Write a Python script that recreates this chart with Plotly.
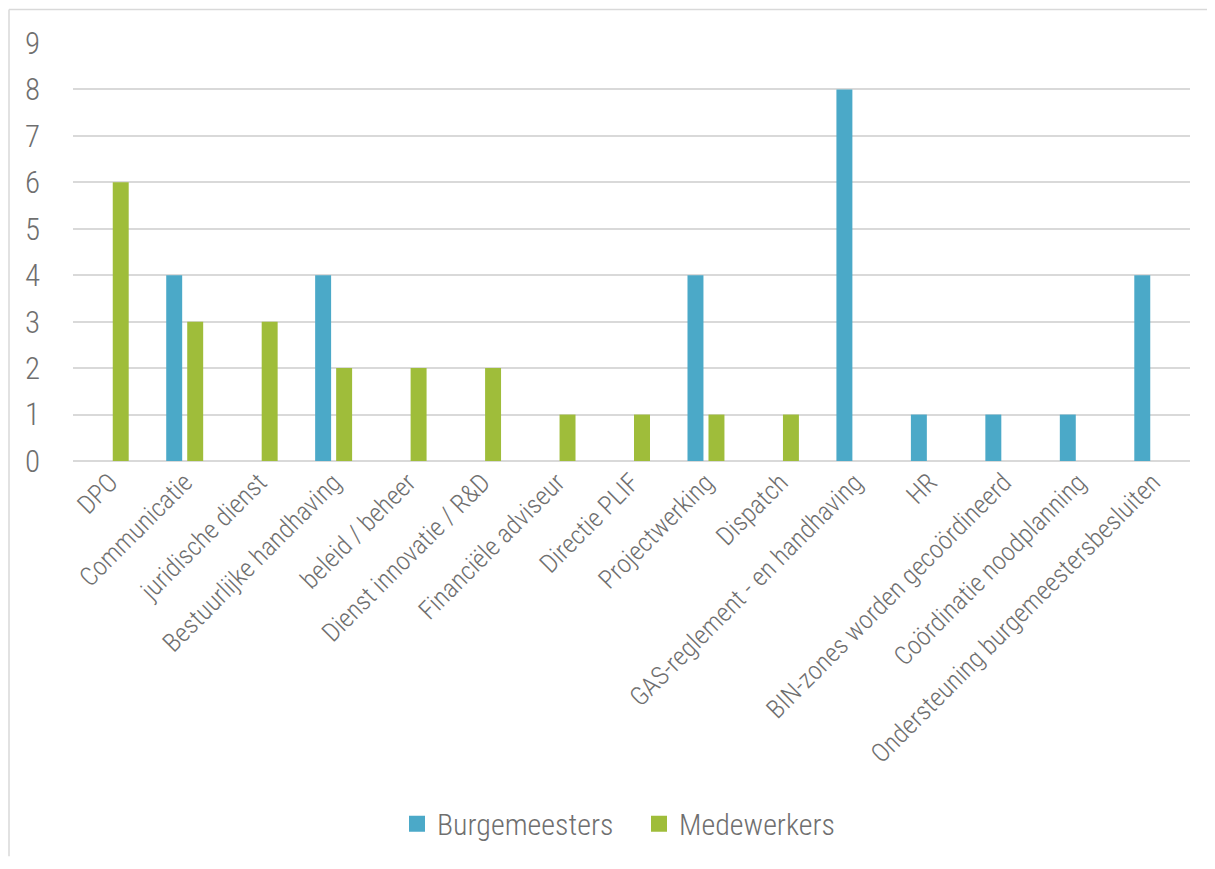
import plotly.graph_objects as go

categories = ["DPO", "Communicatie", "juridische dienst", "Bestuurlijke handhaving",
              "beleid / beheer", "Dienst innovatie / R&D", "Financiële adviseur",
              "Directie PLIF", "Projectwerking", "Dispatch",
              "GAS-reglement - en handhaving", "HR", "BIN-zones worden gecoördineerd",
              "Coördinatie noodplanning", "Ondersteuning burgemeestersbesluiten"]
burgemeesters = [0, 4, 0, 4, 0, 0, 0, 0, 4, 0, 8, 1, 1, 1, 4]
medewerkers = [6, 3, 3, 2, 2, 2, 1, 1, 1, 1, 0, 0, 0, 0, 0]
y_ticks = list(range(0, 10))
series_names = ["Burgemeesters", "Medewerkers"]
series_colors = ["#4BA9C8", "#9FBD3A"]

FONT = "Liberation Sans Narrow, Roboto Condensed, Roboto, sans-serif"
TXT = "#6f6f6f"

fig = go.Figure()
for name, vals, col in zip(series_names, [burgemeesters, medewerkers], series_colors):
    fig.add_trace(go.Bar(name=name, x=categories, y=vals, showlegend=False,
                         marker=dict(color=col, line=dict(width=0))))
# legend entries with larger square swatches
for name, col in zip(series_names, series_colors):
    fig.add_trace(go.Scatter(name=name, x=[None], y=[None], mode="markers",
                             marker=dict(symbol="square", size=19, color=col),
                             showlegend=True))

# page body has an 8px margin; figure placed accordingly
OFF = 8
W, H = 1215 - 2 * OFF, 869 - 2 * OFF
L, T = 73 - OFF, 43 - OFF
R = W - (1190 - OFF)
B = H - (466 - OFF)
pw, ph = W - L - R, H - T - B

fig.update_layout(
    width=W, height=H,
    margin=dict(l=L, r=R, t=T, b=B, pad=0),
    paper_bgcolor="white", plot_bgcolor="white",
    barmode="group", bargap=0.436, bargroupgap=0.24,
    font=dict(family=FONT, color=TXT, weight=300),
    showlegend=True,
    legend=dict(orientation="h", x=(397 - OFF - L) / pw, xanchor="left",
                y=(T + ph - (833 - OFF)) / ph, yanchor="middle",
                font=dict(size=30, family=FONT, color=TXT, weight=300),
                itemwidth=30, itemsizing="trace", traceorder="normal",
                entrywidth=197, entrywidthmode="pixels"),
    xaxis=dict(tickangle=-45, tickfont=dict(size=26, family=FONT, color=TXT, weight=300),
               showgrid=False, showline=False, ticks="", zeroline=False),
    yaxis=dict(range=[0, 9], tickvals=y_ticks,
               tickfont=dict(size=31, family=FONT, color=TXT, weight=300),
               showgrid=True, gridcolor="#d9d9d9", gridwidth=1.5,
               zeroline=True, zerolinecolor="#d9d9d9", zerolinewidth=1.5,
               showline=False, ticks="", ticklabelstandoff=32),
)

# outer chart frame (top and left edges visible)
x0 = (9 - OFF - L) / pw
y1 = (T + ph - (9 - OFF)) / ph
fig.add_shape(type="line", xref="paper", yref="paper", x0=x0, x1=(W + 5 - L) / pw,
              y0=y1, y1=y1, line=dict(color="#d9d9d9", width=1.5))
fig.add_shape(type="line", xref="paper", yref="paper", x0=x0, x1=x0,
              y0=y1, y1=(T + ph - H - 5) / ph, line=dict(color="#d9d9d9", width=1.5))

fig.write_html("out.html")
